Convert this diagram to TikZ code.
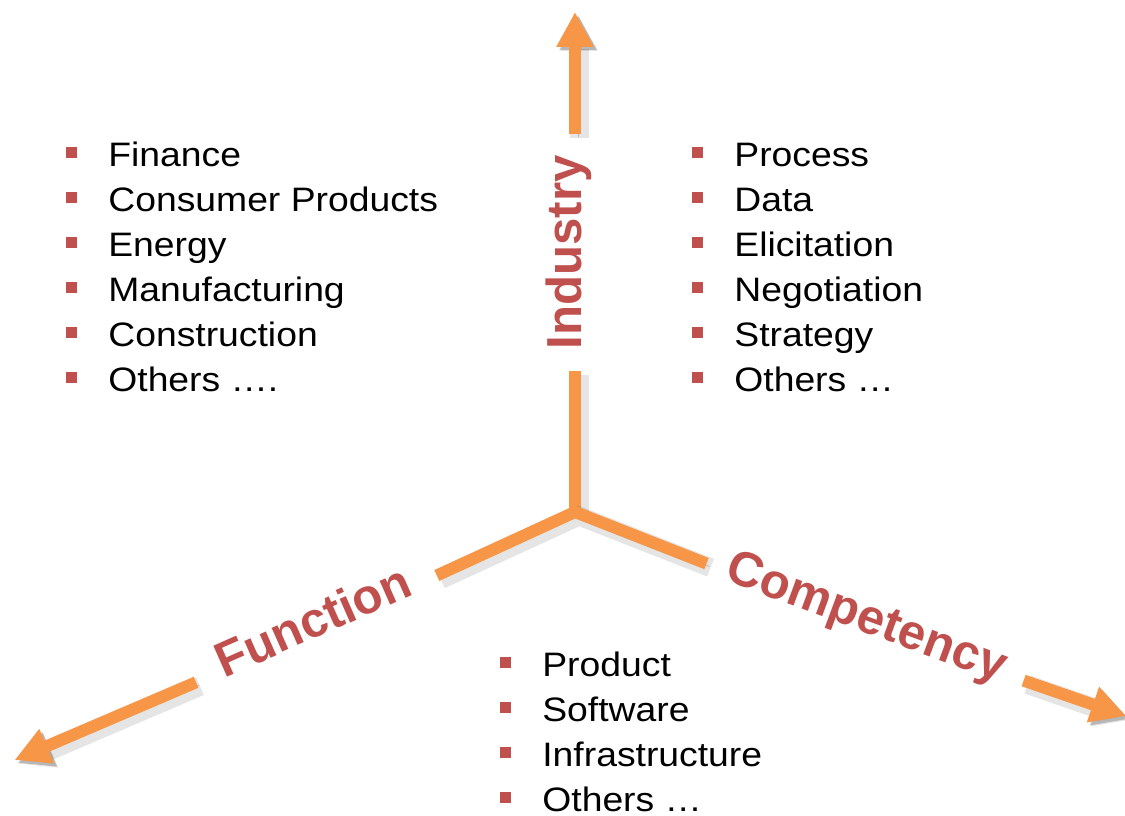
\documentclass[tikz,border=0pt]{standalone}
\usepackage{xcolor}
\usepackage{fontspec}
\setmainfont{Liberation Sans}
\newfontfamily\listfont[FakeStretch=1.1]{Liberation Sans}
\usepackage{tikz}
\usetikzlibrary{positioning,arrows.meta}

\definecolor{axisorange}{HTML}{F79646}
\definecolor{labelred}{HTML}{C0504D}
\newcommand{\sqbullet}{\textcolor{labelred}{\rule[0.18cm]{0.22cm}{0.22cm}}\hspace{0.62cm}}

\tikzset{
  axis/.style={draw=axisorange, line width=0.24cm, line join=miter,
    preaction={draw=black, opacity=0.1, line width=0.38cm, transform canvas={shift={(0.08cm,-0.08cm)}}},
    preaction={draw=black, opacity=0.2, transform canvas={shift={(0.06cm,-0.06cm)}}}},
  axistip/.style={-{Triangle[width=0.7cm,length=0.7cm]}},
  axislabel/.style={text=labelred, font=\bfseries\fontsize{28}{32}\selectfont,
    inner xsep=0.42cm, inner ysep=0pt, text height=0.716em, text depth=0pt, sloped},
  listitem/.style={anchor=base west, inner sep=0pt, font=\listfont\fontsize{19.3}{25}\selectfont}
}

\begin{document}
\begin{tikzpicture}
\useasboundingbox (0,0) rectangle (22.5,16.32);

\coordinate (o) at (11.5,6.08);
\coordinate (toptip) at (11.5,16.08);
\coordinate (lefttip) at (0.29,1.12);
\coordinate (righttip) at (22.52,2.0);

\path (o) -- (toptip) node[axislabel, pos=0.519] (industry) {Industry};
\path (o) -- (lefttip) node[axislabel, pos=0.463, inner xsep=0.55cm, yshift=-0.08cm] (function) {Function};
\path (o) -- (righttip) node[axislabel, pos=0.528, yshift=-0.12cm] (competency) {Competency};

\draw[axis] (o) -- (industry);
\draw[axis, axistip] (industry) -- (toptip);
\draw[axis] (function) -- (o) -- (competency);
\draw[axis, axistip] (function) -- (lefttip);
\draw[axis, axistip] (competency) -- (righttip);

\node[listitem] (ind_0) at (1.32,12.98) {\sqbullet Finance};
\node[listitem] (ind_1) at (1.32,12.08) {\sqbullet Consumer Products};
\node[listitem] (ind_2) at (1.32,11.18) {\sqbullet Energy};
\node[listitem] (ind_3) at (1.32,10.28) {\sqbullet Manufacturing};
\node[listitem] (ind_4) at (1.32,9.38) {\sqbullet Construction};
\node[listitem] (ind_5) at (1.32,8.48) {\sqbullet Others ….};

\node[listitem] (comp_0) at (13.84,12.98) {\sqbullet Process};
\node[listitem] (comp_1) at (13.84,12.08) {\sqbullet Data};
\node[listitem] (comp_2) at (13.84,11.18) {\sqbullet Elicitation};
\node[listitem] (comp_3) at (13.84,10.28) {\sqbullet Negotiation};
\node[listitem] (comp_4) at (13.84,9.38) {\sqbullet Strategy};
\node[listitem] (comp_5) at (13.84,8.48) {\sqbullet Others …};

\node[listitem] (func_0) at (10.0,2.78) {\sqbullet Product};
\node[listitem] (func_1) at (10.0,1.88) {\sqbullet Software};
\node[listitem] (func_2) at (10.0,0.98) {\sqbullet Infrastructure};
\node[listitem] (func_3) at (10.0,0.08) {\sqbullet Others …};

\end{tikzpicture}
\end{document}
